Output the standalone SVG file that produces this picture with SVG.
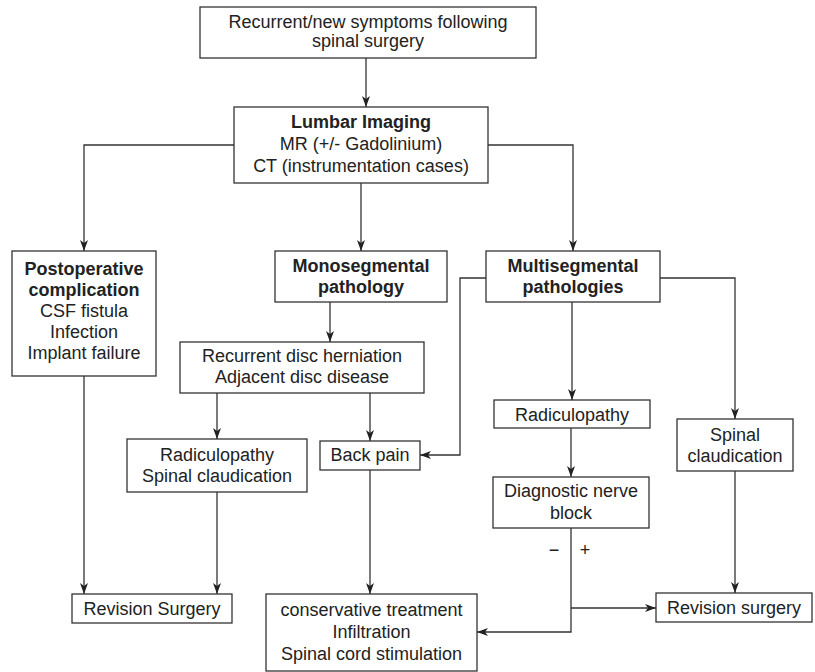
<svg xmlns="http://www.w3.org/2000/svg" width="815" height="672" viewBox="0 0 815 672">
<style>
  .box { fill: #ffffff; stroke: #333333; stroke-width: 1.3; }
  .t { font-family: "Liberation Sans", Arial, sans-serif; font-size: 18px; fill: #222222; text-anchor: middle; }
  .b { font-weight: bold; }
  .c { fill: none; stroke: #333333; stroke-width: 1.3; }
</style>
<defs>
  <marker id="ah" markerUnits="userSpaceOnUse" markerWidth="14" markerHeight="10" refX="11" refY="4" orient="auto" overflow="visible">
    <path d="M11,4 L0,0 L3,4 L0,8 Z" fill="#222222"/>
  </marker>
</defs>
<rect width="815" height="672" fill="#ffffff"/>
<g id="connectors">
  <path class="c" d="M366,58 V107" marker-end="url(#ah)"/>
  <path class="c" d="M234,145 H84 V251" marker-end="url(#ah)"/>
  <path class="c" d="M361,183 V251" marker-end="url(#ah)"/>
  <path class="c" d="M488,145 H573 V251" marker-end="url(#ah)"/>
  <path class="c" d="M84,376 V594" marker-end="url(#ah)"/>
  <path class="c" d="M330,302 V342" marker-end="url(#ah)"/>
  <path class="c" d="M217,393 V439" marker-end="url(#ah)"/>
  <path class="c" d="M370,393 V441" marker-end="url(#ah)"/>
  <path class="c" d="M217,492 V594" marker-end="url(#ah)"/>
  <path class="c" d="M370,470 V594" marker-end="url(#ah)"/>
  <path class="c" d="M486,278 H460 V455 H420" marker-end="url(#ah)"/>
  <path class="c" d="M572,302 V400" marker-end="url(#ah)"/>
  <path class="c" d="M660,278 H735 V419" marker-end="url(#ah)"/>
  <path class="c" d="M571,428 V477" marker-end="url(#ah)"/>
  <path class="c" d="M735,471 V593" marker-end="url(#ah)"/>
  <path class="c" d="M571,528 V632 H477" marker-end="url(#ah)"/>
  <path class="c" d="M571,608 H656" marker-end="url(#ah)"/>
  <text class="t" x="554" y="556">−</text>
  <text class="t" x="585" y="556">+</text>
</g>
<g id="n-start">
  <rect class="box" x="200" y="7" width="336" height="51"/>
  <text class="t" x="368" y="28">Recurrent/new symptoms following</text>
  <text class="t" x="368" y="47">spinal surgery</text>
</g>
<g id="n-imaging">
  <rect class="box" x="234" y="107" width="254" height="76"/>
  <text class="t b" x="361" y="128">Lumbar Imaging</text>
  <text class="t" x="361" y="150">MR (+/- Gadolinium)</text>
  <text class="t" x="361" y="172">CT (instrumentation cases)</text>
</g>
<g id="n-postop">
  <rect class="box" x="12" y="251" width="144" height="125"/>
  <text class="t b" x="84" y="275">Postoperative</text>
  <text class="t b" x="84" y="296">complication</text>
  <text class="t" x="84" y="317">CSF fistula</text>
  <text class="t" x="84" y="338">Infection</text>
  <text class="t" x="84" y="359">Implant failure</text>
</g>
<g id="n-mono">
  <rect class="box" x="275" y="251" width="172" height="51"/>
  <text class="t b" x="361" y="272">Monosegmental</text>
  <text class="t b" x="361" y="293">pathology</text>
</g>
<g id="n-multi">
  <rect class="box" x="486" y="251" width="174" height="51"/>
  <text class="t b" x="573" y="272">Multisegmental</text>
  <text class="t b" x="573" y="293">pathologies</text>
</g>
<g id="n-recurrent">
  <rect class="box" x="180" y="342" width="244" height="51"/>
  <text class="t" x="302" y="362">Recurrent disc herniation</text>
  <text class="t" x="302" y="383">Adjacent disc disease</text>
</g>
<g id="n-radic-left">
  <rect class="box" x="127" y="439" width="180" height="53"/>
  <text class="t" x="217" y="461">Radiculopathy</text>
  <text class="t" x="217" y="482">Spinal claudication</text>
</g>
<g id="n-backpain">
  <rect class="box" x="320" y="441" width="100" height="29"/>
  <text class="t" x="370" y="461">Back pain</text>
</g>
<g id="n-radic-right">
  <rect class="box" x="494" y="400" width="156" height="28"/>
  <text class="t" x="572" y="421">Radiculopathy</text>
</g>
<g id="n-spinal">
  <rect class="box" x="677" y="419" width="116" height="52"/>
  <text class="t" x="735" y="441">Spinal</text>
  <text class="t" x="735" y="462">claudication</text>
</g>
<g id="n-diagnostic">
  <rect class="box" x="493" y="477" width="156" height="51"/>
  <text class="t" x="571" y="497">Diagnostic nerve</text>
  <text class="t" x="571" y="519">block</text>
</g>
<g id="n-revision-left">
  <rect class="box" x="72" y="594" width="160" height="29"/>
  <text class="t" x="152" y="615">Revision Surgery</text>
</g>
<g id="n-conservative">
  <rect class="box" x="266" y="594" width="211" height="77"/>
  <text class="t" x="371.5" y="616">conservative treatment</text>
  <text class="t" x="371.5" y="638">Infiltration</text>
  <text class="t" x="371.5" y="660">Spinal cord stimulation</text>
</g>
<g id="n-revision-right">
  <rect class="box" x="656" y="593" width="156" height="29"/>
  <text class="t" x="734" y="614">Revision surgery</text>
</g>
</svg>
